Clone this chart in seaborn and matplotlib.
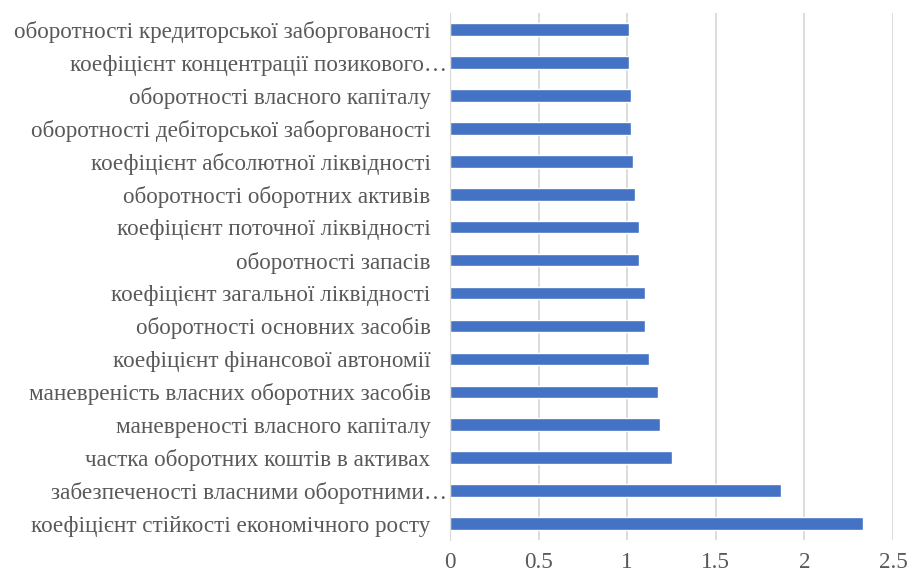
import pandas as pd
import seaborn as sns
import matplotlib.pyplot as plt
from matplotlib.transforms import ScaledTranslation

labels = [
    'оборотності кредиторської заборгованості',
    'коефіцієнт концентрації позикового…',
    'оборотності власного капіталу',
    'оборотності дебіторської заборгованості',
    'коефіцієнт абсолютної ліквідності',
    'оборотності оборотних активів',
    'коефіцієнт поточної ліквідності',
    'оборотності запасів',
    'коефіцієнт загальної ліквідності',
    'оборотності основних засобів',
    'коефіцієнт фінансової автономії',
    'маневреність власних оборотних засобів',
    'маневреності власного капіталу',
    'частка оборотних коштів в активах',
    'забезпеченості власними оборотними…',
    'коефіцієнт стійкості економічного росту',
]
values = [1.011, 1.011, 1.024, 1.024, 1.03, 1.043, 1.065, 1.065,
          1.099, 1.10, 1.125, 1.172, 1.185, 1.251, 1.869, 2.328]
ticks = [0, 0.5, 1, 1.5, 2, 2.5]

df = pd.DataFrame({'name': labels, 'value': values})

sns.set_style('white')
plt.rcParams['font.family'] = ['Liberation Serif', 'DejaVu Serif']

fig = plt.figure(figsize=(9.08, 5.73), dpi=100)
ax = fig.add_axes([0.4956, 0.0576, 0.4879, 0.9194])

sns.barplot(data=df, x='value', y='name', color='#4472C4', saturation=1,
            width=0.38, ax=ax, orient='h')

ax.set_xlim(0, 2.5)
ax.set_xticks(ticks)
ax.set_xticklabels(['0', '0.5', '1', '1.5', '2', '2.5'])
ax.set_xlabel('')
ax.set_ylabel('')
ax.xaxis.grid(True, color='#d9d9d9', linewidth=1.3)
ax.set_axisbelow(True)
for s in ['top', 'right', 'bottom']:
    ax.spines[s].set_visible(False)
ax.spines['left'].set_color('#d9d9d9')
ax.tick_params(axis='both', length=0, colors='#595959', labelsize=16.7)
ax.tick_params(axis='x', pad=9)
ax.tick_params(axis='y', pad=14)

# truncated labels sit closer to the axis, as in the original
for t in ax.get_yticklabels():
    if t.get_text().endswith('…'):
        t.set_transform(t.get_transform() + ScaledTranslation(12 / 72, 0, fig.dpi_scale_trans))

fig.savefig('out.png', dpi=100)
